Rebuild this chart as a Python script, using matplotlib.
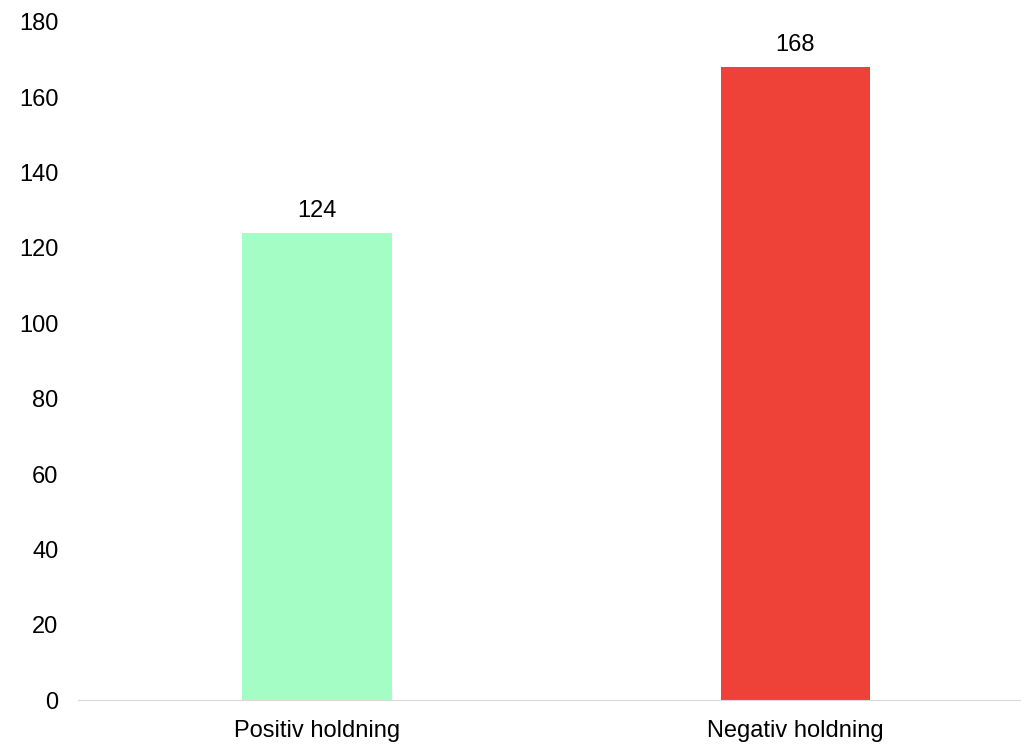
import matplotlib
matplotlib.use("Agg")
import matplotlib.pyplot as plt

plt.rcParams['font.family'] = ['Liberation Sans', 'DejaVu Sans']

categories = ["Positiv holdning", "Negativ holdning"]
values = [124, 168]
colors = ["#A5FDC6", "#EE4138"]

fig = plt.figure(figsize=(10.24, 7.44), dpi=100)
ax = fig.add_axes([0.0762, 0.059, 0.92, 0.9115])

x = list(range(len(categories)))
bars = ax.bar(x, values, width=0.313, color=colors)
for b, v in zip(bars, values):
    ax.text(b.get_x() + b.get_width() / 2, v + 3, str(v), ha="center", va="bottom", fontsize=17)

ax.set_xlim(-0.5, 1.47)
ax.set_ylim(0, 180)
ax.set_yticks(range(0, 181, 20))
ax.set_xticks(x)
ax.set_xticklabels(categories)
ax.tick_params(axis="both", length=0, labelsize=17)
ax.tick_params(axis="y", pad=14)
ax.tick_params(axis="x", pad=14)
for s in ["top", "right", "left"]:
    ax.spines[s].set_visible(False)
ax.spines["bottom"].set_color("#D9D9D9")

fig.savefig("out.png", dpi=100)
